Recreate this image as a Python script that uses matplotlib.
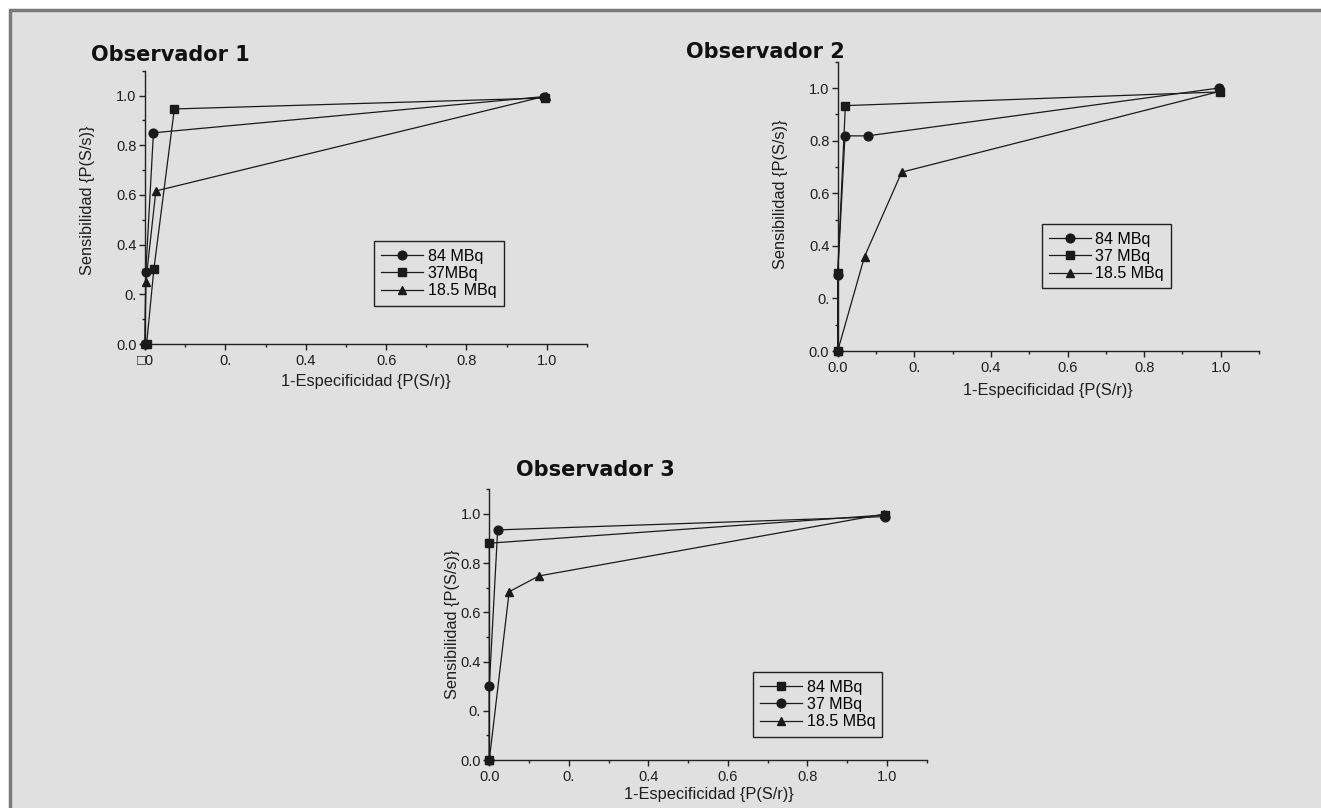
import matplotlib
matplotlib.use("Agg")
import matplotlib.pyplot as plt
from matplotlib.patches import Rectangle
from matplotlib.ticker import MultipleLocator, FixedLocator

# ---------------- data ----------------
titles = ["Observador 1", "Observador 2", "Observador 3"]
xlabel = "1-Especificidad {P(S/r)}"
ylabel = "Sensibilidad {P(S/s)}"
ytick_vals = [0.0, 0.2, 0.4, 0.6, 0.8, 1.0]
ytick_labels = ["0.0", "0.", "0.4", "0.6", "0.8", "1.0"]
xtick_vals = [0.0, 0.2, 0.4, 0.6, 0.8, 1.0]
xtick_labels_1 = ["\u25a10", "0.", "0.4", "0.6", "0.8", "1.0"]
xtick_labels_23 = ["0.0", "0.", "0.4", "0.6", "0.8", "1.0"]

# Observador 1
o1_labels = ["84 MBq", "37MBq", "18.5 MBq"]
o1_markers = ["o", "s", "^"]
o1_x84 = [0.0, 0.002, 0.021, 0.994]
o1_y84 = [0.0, 0.29, 0.85, 0.996]
o1_x37 = [0.004, 0.022, 0.073, 0.996]
o1_y37 = [0.0, 0.30, 0.946, 0.99]
o1_x18 = [0.0, 0.002, 0.027, 0.998]
o1_y18 = [0.0, 0.25, 0.616, 0.998]

# Observador 2
o2_labels = ["84 MBq", "37 MBq", "18.5 MBq"]
o2_markers = ["o", "s", "^"]
o2_x84 = [0.0, 0.0, 0.019, 0.078, 0.996]
o2_y84 = [0.0, 0.289, 0.818, 0.818, 1.0]
o2_x37 = [0.0, 0.0, 0.020, 0.997]
o2_y37 = [0.0, 0.296, 0.933, 0.985]
o2_x18 = [0.0, 0.070, 0.167, 0.997]
o2_y18 = [0.0, 0.359, 0.680, 0.987]

# Observador 3
o3_labels = ["84 MBq", "37 MBq", "18.5 MBq"]
o3_markers = ["s", "o", "^"]
o3_x84 = [0.0, 0.0, 0.996]
o3_y84 = [0.0, 0.881, 0.996]
o3_x37 = [0.0, 0.0, 0.021, 0.996]
o3_y37 = [0.0, 0.30, 0.935, 0.989]
o3_x18 = [0.0, 0.050, 0.125, 0.992]
o3_y18 = [0.0, 0.684, 0.748, 0.999]

# ---------------- figure ----------------
W, H = 1321, 808
fig = plt.figure(figsize=(W / 100, H / 100), dpi=100, facecolor="white")
BG = "#e0e0e0"
fig.patches.append(Rectangle((9.5 / W, -0.05), 1.1, (H - 9.5) / H + 0.05,
                             transform=fig.transFigure, facecolor=BG,
                             edgecolor="#7a7a7a", linewidth=2.5, zorder=-10))

FONT = ["Liberation Sans", "DejaVu Sans"]
INK = "#1a1a1a"

def px_axes(l, t, r, b):
    ax = fig.add_axes([l / W, (H - b) / H, (r - l) / W, (b - t) / H])
    ax.set_zorder(5)
    return ax

def style(ax, xt_labels):
    ax.set_facecolor("none")
    ax.set_xlim(0, 1.1)
    ax.set_ylim(0, 1.1)
    for s in ("top", "right"):
        ax.spines[s].set_visible(False)
    for s in ("left", "bottom"):
        ax.spines[s].set_color("#222222")
        ax.spines[s].set_linewidth(1.0)
    ax.xaxis.set_major_locator(FixedLocator(xtick_vals))
    ax.yaxis.set_major_locator(FixedLocator(ytick_vals))
    ax.xaxis.set_minor_locator(MultipleLocator(0.1))
    ax.yaxis.set_minor_locator(MultipleLocator(0.1))
    ax.set_xticklabels(xt_labels, fontfamily=FONT, fontsize=10.5, color="#1e1e1e")
    ax.set_yticklabels(ytick_labels, fontfamily=FONT, fontsize=10.5, color="#1e1e1e")
    ax.tick_params(which="major", direction="out", length=4, width=1.0,
                   color="#222222", pad=2)
    ax.tick_params(which="minor", direction="out", length=2.5, width=1.0,
                   color="#222222")
    ax.tick_params(axis="x", which="major", pad=3)

def draw(ax, series, labels, markers, title, tpos, xl_pos, yl_pos, leg_pos, xt_labels):
    style(ax, xt_labels)
    for (xs, ys), lab, m in zip(series, labels, markers):
        ax.plot(xs, ys, color=INK, linewidth=0.9, marker=m, markersize=6.3,
                markerfacecolor=INK, markeredgecolor=INK, label=lab,
                clip_on=False, zorder=3)
    ax.set_xlabel(xlabel, fontfamily=FONT, fontsize=11.8, color="#1e1e1e")
    ax.set_ylabel(ylabel, fontfamily=FONT, fontsize=11.8, color="#1e1e1e")
    ax.xaxis.set_label_coords(*xl_pos)
    ax.xaxis.label.set_va("center")
    ax.yaxis.set_label_coords(*yl_pos)
    ax.yaxis.label.set_va("center")
    leg = ax.legend(loc="center", bbox_to_anchor=leg_pos, frameon=True,
                    fancybox=False, prop={"family": FONT, "size": 11.5},
                    handlelength=2.6, handletextpad=0.3, labelspacing=0.15,
                    borderpad=0.45, borderaxespad=0)
    leg.get_frame().set_edgecolor("#222222")
    leg.get_frame().set_linewidth(1.0)
    leg.get_frame().set_facecolor(BG)
    leg.get_frame().set_alpha(1)
    fig.text(tpos[0] / W, (H - tpos[1]) / H, title, fontfamily="DejaVu Sans",
             fontweight="bold", fontsize=15, color="#111111",
             ha="left", va="baseline")

ax1 = px_axes(145, 70.7, 587, 344)
draw(ax1, [(o1_x84, o1_y84), (o1_x37, o1_y37), (o1_x18, o1_y18)],
     o1_labels, o1_markers, titles[0], (91, 61),
     (0.50, -0.138), (-0.131, 0.527), (0.665, 0.258), xtick_labels_1)

ax2 = px_axes(837.7, 61.7, 1259, 351)
draw(ax2, [(o2_x84, o2_y84), (o2_x37, o2_y37), (o2_x18, o2_y18)],
     o2_labels, o2_markers, titles[1], (686, 58),
     (0.50, -0.135), (-0.135, 0.543), (0.638, 0.327), xtick_labels_23)

ax3 = px_axes(489.3, 489.3, 926.7, 760)
draw(ax3, [(o3_x84, o3_y84), (o3_x37, o3_y37), (o3_x18, o3_y18)],
     o3_labels, o3_markers, titles[2], (516, 476),
     (0.502, -0.129), (-0.083, 0.50), (0.751, 0.205), xtick_labels_23)

fig.savefig("out.png", dpi=100, facecolor="white")
